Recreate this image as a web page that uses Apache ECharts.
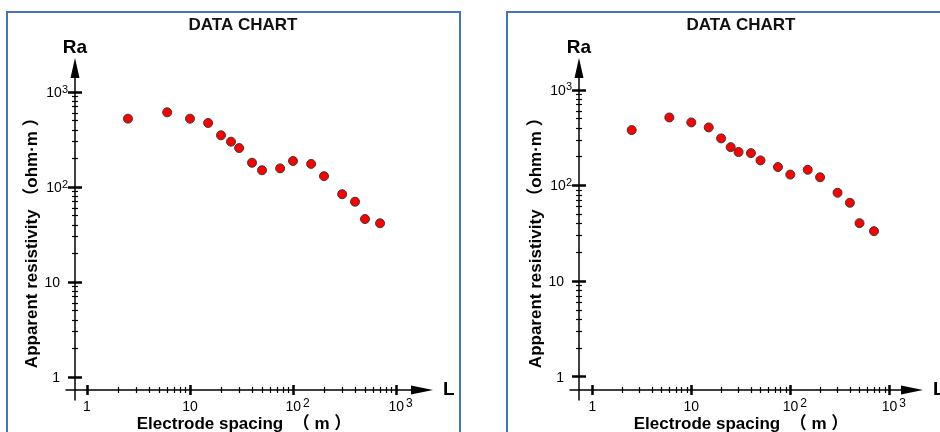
<!DOCTYPE html>
<html>
<head>
<meta charset="utf-8">
<script src="https://cdn.jsdelivr.net/npm/echarts@6/dist/echarts.min.js"></script>
<style>
html, body { margin: 0; padding: 0; background: #fff; }
#dom { width: 940px; height: 432px; }
</style>
</head>
<body>
<div id="dom"></div>
<script>
// electrode spacing AB/2 (m)
const spacing = [2.5, 6, 10, 15, 20, 25, 30, 40, 50, 75, 100, 150, 200, 300, 400, 500, 700]
// apparent resistivity (ohm·m), left chart
const resistivityLeft = [524, 611, 524, 472, 350, 300, 257, 180, 150, 157, 188, 175, 130, 84, 70, 46, 41.5]
// apparent resistivity (ohm·m), right chart
const resistivityRight = [380, 515, 457, 405, 311, 252, 224, 218, 183, 156, 130, 146, 122, 84, 66, 40.4, 33.3]

// tick values and labels (base + exponent)
const majorTicks = [1, 10, 100, 1000]
const tickBase = ['1', '10', '10', '10']
const tickExp = ['', '', '2', '3']
const minorTicks = []
for (let d of [1, 10, 100]) {
    for (let k = 2; k <= 9; k++) minorTicks.push(d * k)
}

const font = "'Liberation Sans', Arial, 'Noto Sans CJK SC', sans-serif"

// pixel layout of the two panels and the axis ranges they show
const panels = [
    { left: 66, top: 68, width: 356, height: 332, xMin: 0.6253, xMax: 1788, yMin: 0.5727, yMax: 1789, center: 243, border: [7, 12, 453, 440], data: resistivityLeft },
    { left: 570, top: 68, width: 342, height: 332, xMin: 0.5955, xMax: 1695, yMin: 0.5705, yMax: 1695, center: 741, border: [507, 12, 460, 440], data: resistivityRight }
]

const richStyle = {
    b: { fontSize: 14, fontFamily: font, color: '#000', lineHeight: 16, verticalAlign: 'bottom' },
    bx: { fontSize: 14, fontFamily: font, color: '#000', lineHeight: 16, verticalAlign: 'bottom', padding: [0, 0, 0, 9] },
    n: { fontSize: 14, fontFamily: font, color: '#000', lineHeight: 16, verticalAlign: 'bottom', padding: [0, 8, 0, 0] },
    s: { fontSize: 11, fontFamily: font, color: '#000', lineHeight: 10, verticalAlign: 'top' },
    sx: { fontSize: 12, fontFamily: font, color: '#000', lineHeight: 10, verticalAlign: 'top', padding: [0, 0, 0, 2] }
}

const xLabel = value => {
    const i = majorTicks.indexOf(Math.round(value))
    if (i < 0) return ''
    return tickExp[i] ? '{bx|' + tickBase[i] + '}{sx|' + tickExp[i] + '}' : '{b|' + tickBase[i] + '}'
}
const yLabel = value => {
    const i = majorTicks.indexOf(Math.round(value))
    if (i < 0) return ''
    return tickExp[i] ? '{b|' + tickBase[i] + '}{s|' + tickExp[i] + '}' : '{n|' + tickBase[i] + '}'
}

const nameStyle = { fontFamily: font, fontSize: 17, fontWeight: 'bold', color: '#000' }
const lineStyle = { color: '#000', width: 1.5 }

let grids = [], xAxes = [], yAxes = [], series = [], titles = [], graphics = []

panels.forEach((p, gi) => {
    grids.push({ left: p.left, top: p.top, width: p.width, height: p.height, containLabel: false, outerBoundsMode: 'none' })
    const xBase = { type: 'log', logBase: 10, gridIndex: gi, min: p.xMin, max: p.xMax, position: 'bottom', splitLine: { show: false }, nameMoveOverlap: false }
    const yBase = { type: 'log', logBase: 10, gridIndex: gi, min: p.yMin, max: p.yMax, position: 'left', splitLine: { show: false }, nameMoveOverlap: false }

    // main x axis: line, arrow and labels
    xAxes.push(Object.assign({}, xBase, {
        offset: -10,
        name: 'L', nameLocation: 'end', nameGap: 21,
        nameTextStyle: { fontFamily: font, fontSize: 19, fontWeight: 'bold', color: '#000', verticalAlign: 'middle' },
        axisLine: { show: true, onZero: false, lineStyle: lineStyle, symbol: ['none', 'triangle'], symbolSize: [9, 22] },
        axisTick: { show: false },
        axisLabel: { customValues: majorTicks, formatter: xLabel, margin: 8, rich: richStyle }
    }))
    // minor ticks, crossing the line
    xAxes.push(Object.assign({}, xBase, {
        offset: -13,
        axisLine: { show: false, onZero: false },
        axisLabel: { show: false },
        axisTick: { show: true, customValues: minorTicks, length: 6, lineStyle: { color: '#000', width: 1.2 } }
    }))
    // major ticks and the axis title
    xAxes.push(Object.assign({}, xBase, {
        offset: -15,
        name: 'Electrode spacing  （ m ）', nameLocation: 'middle', nameGap: 30,
        nameTextStyle: Object.assign({ lineHeight: 18 }, nameStyle),
        axisLine: { show: false, onZero: false },
        axisLabel: { show: false },
        axisTick: { show: true, customValues: majorTicks, length: 10, lineStyle: { color: '#000', width: 2.5 } }
    }))

    yAxes.push(Object.assign({}, yBase, {
        offset: -9,
        name: 'Ra', nameLocation: 'end', nameGap: 11,
        nameTextStyle: { fontFamily: font, fontSize: 19, fontWeight: 'bold', color: '#000' },
        axisLine: { show: true, onZero: false, lineStyle: lineStyle, symbol: ['none', 'triangle'], symbolSize: [9, 20] },
        axisTick: { show: false },
        axisLabel: { customValues: majorTicks, formatter: yLabel, margin: 7, rich: richStyle }
    }))
    yAxes.push(Object.assign({}, yBase, {
        offset: -12,
        axisLine: { show: false, onZero: false },
        axisLabel: { show: false },
        axisTick: { show: true, customValues: minorTicks, length: 6, lineStyle: { color: '#000', width: 1.2 } }
    }))
    yAxes.push(Object.assign({}, yBase, {
        offset: -16,
        name: 'Apparent resistivity （ohm·m ）  ', nameLocation: 'middle', nameRotate: 90, nameGap: 41,
        nameTextStyle: Object.assign({ lineHeight: 18 }, nameStyle),
        axisLine: { show: false, onZero: false },
        axisLabel: { show: false },
        axisTick: { show: true, customValues: majorTicks, length: 14, lineStyle: { color: '#000', width: 2.5 } }
    }))

    series.push({
        type: 'scatter',
        xAxisIndex: gi * 3,
        yAxisIndex: gi * 3,
        symbol: 'circle',
        symbolSize: 9,
        itemStyle: { color: '#ff0000', borderColor: '#3a3a3a', borderWidth: 1, opacity: 1 },
        z: 5,
        data: spacing.map((x, i) => [x, p.data[i]])
    })

    titles.push({
        text: 'DATA CHART', left: p.center, top: 17, textAlign: 'center', padding: 0,
        textStyle: { fontFamily: font, fontSize: 17, fontWeight: 'bold', color: '#111' }
    })

    graphics.push({
        type: 'rect',
        shape: { x: p.border[0], y: p.border[1], width: p.border[2], height: p.border[3] },
        style: { fill: 'none', stroke: '#4472c4', lineWidth: 2 },
        silent: true
    })
})

const option = {
    animation: false,
    backgroundColor: '#fff',
    title: titles,
    grid: grids,
    xAxis: xAxes,
    yAxis: yAxes,
    series: series,
    graphic: graphics
}

let myChart = echarts.init(document.getElementById('dom'))
myChart.setOption(option, true)
</script>
</body>
</html>
